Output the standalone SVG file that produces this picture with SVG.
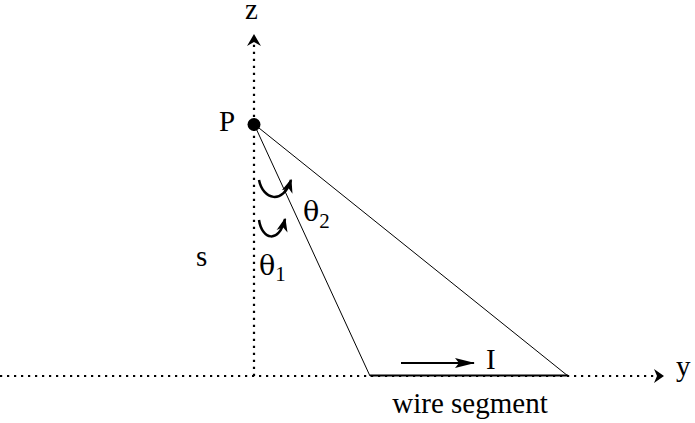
<svg xmlns="http://www.w3.org/2000/svg" width="695" height="423" viewBox="0 0 695 423">
<defs>
<style>
.axis{stroke:#000;stroke-width:2.2;stroke-dasharray:2.2 4.8;fill:none}
.thin{stroke:#000;stroke-width:1;fill:none}
.curv{stroke:#000;stroke-width:2.5;fill:none}
.lbl{font-family:"Liberation Serif","Times New Roman",serif;fill:#000;font-size:29px}
.gr{font-family:"DejaVu Serif","Liberation Serif",serif;font-size:27px}
.sub{font-family:"Liberation Serif","Times New Roman",serif;font-size:21px}
</style>
<marker id="ah2" viewBox="0 0 10 10" refX="9" refY="5" markerWidth="14" markerHeight="14" markerUnits="userSpaceOnUse" orient="auto">
<path d="M0,1 L10,5 L0,9 L3,5 Z" fill="#000"/>
</marker>
<marker id="ahI" viewBox="0 0 20 10" refX="19" refY="5" markerWidth="20" markerHeight="10" markerUnits="userSpaceOnUse" orient="auto">
<path d="M0,0 L20,5 L0,10 L4,5 Z" fill="#000"/>
</marker>
</defs>
<g id="connectors">
<line class="axis" x1="0" y1="376" x2="656" y2="376"/>
<path d="M654,369 L664,376 L654,383 L657,376 Z" fill="#000"/>
<line class="axis" x1="254" y1="376" x2="254" y2="44"/>
<path d="M247,46 L254,34 L261,46 L254,42 Z" fill="#000"/>
<line class="thin" x1="254" y1="124" x2="370" y2="376"/>
<line class="thin" x1="254" y1="124" x2="568" y2="376"/>
<line x1="370" y1="375.5" x2="568" y2="375.5" stroke="#000" stroke-width="2"/>
<line x1="401" y1="363" x2="474" y2="363" stroke="#000" stroke-width="2" marker-end="url(#ahI)"/>
<path class="curv" d="M259,180 C263,200 283,205 291,180" marker-end="url(#ah2)"/>
<path class="curv" d="M259,220 C262,240 279,244 285,219" marker-end="url(#ah2)"/>
</g>
<g id="P">
<circle cx="254" cy="124.5" r="6.5" fill="#000"/>
<text class="lbl" x="219" y="131">P</text>
</g>
<g id="z"><text class="lbl" x="245" y="19">z</text></g>
<g id="y"><text class="lbl" x="676" y="376">y</text></g>
<g id="s"><text class="lbl" x="196" y="266">s</text></g>
<g id="theta1"><text class="lbl" x="259" y="275"><tspan class="gr">θ</tspan><tspan class="sub" dy="6">1</tspan></text></g>
<g id="theta2"><text class="lbl" x="303" y="221"><tspan class="gr">θ</tspan><tspan class="sub" dy="7">2</tspan></text></g>
<g id="I"><text class="lbl" x="486" y="369">I</text></g>
<g id="wire"><text class="lbl" x="470" y="413" font-size="30" text-anchor="middle">wire segment</text></g>
</svg>
